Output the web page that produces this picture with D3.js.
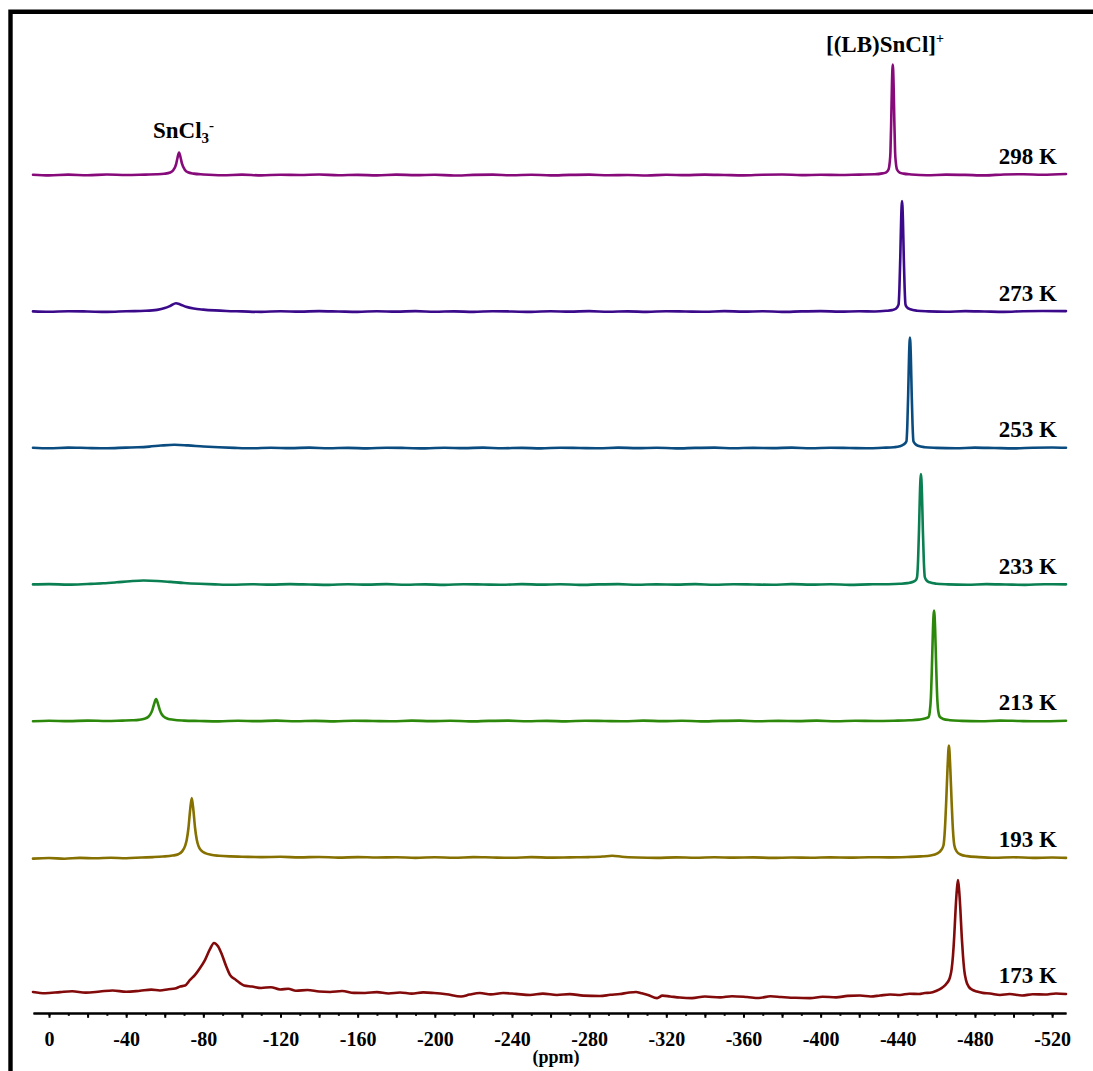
<!DOCTYPE html>
<html>
<head>
<meta charset="utf-8">
<script src="https://cdn.jsdelivr.net/npm/d3@7"></script>
<style>
	body { margin: 0; background: #fff; }
	svg { display: block; }
	.trace { fill: none; stroke-width: 2.6; stroke-linejoin: round; stroke-linecap: round; }
	.serif { font-family: "Liberation Serif", "Times New Roman", serif; font-weight: bold; fill: #000; }
	.axis path, .axis line { stroke: #000; stroke-width: 2; }
</style>
</head>
<body>
<svg id="plot" width="1093" height="1071"></svg>
<script>
function whenDocumentLoaded(action) {
	if (document.readyState === "loading") {
		document.addEventListener("DOMContentLoaded", action);
	} else {
		action();
	}
}

// temperatures, top to bottom
const TEMPS = ['298 K', '273 K', '253 K', '233 K', '213 K', '193 K', '173 K'];

// [ppm, intensity] (LB peak ~ 81)
const T298 = [[8.3,0.2],[0,-0.3],[-10,0.3],[-20,-0.2],[-30,0.4],[-40,0],[-50,0.3],[-56,0.5],
	[-59.7,0.9],[-62.8,1.8],[-64.3,3.3],[-65.9,8],[-66.6,12.5],[-67.4,16.5],[-68.2,12.8],[-68.9,8.5],[-70.5,3.6],[-72,2],[-75,1],[-80,0.4],
	[-90,-0.2],[-100,0.3],[-110,-0.3],[-120,0.2],[-130,0],[-140,0.4],[-150,-0.2],[-160,0.1],[-170,-0.3],[-180,0.3],[-190,-0.1],[-200,0.2],
	[-210,-0.4],[-220,0.1],[-230,0.3],[-240,-0.2],[-250,0.2],[-260,-0.3],[-270,0.1],[-280,0.3],[-290,-0.2],[-300,0],[-310,-0.4],[-320,0.2],
	[-330,-0.1],[-340,0.3],[-350,0],[-360,-0.3],[-370,0.2],[-380,0.4],[-390,-0.1],[-400,0.2],[-410,0],[-420,0.3],[-428,0.5],
	[-432,1.2],[-434,2],[-435.2,4],[-435.8,9],[-436.2,17],[-436.6,40],[-437,68],[-437.4,81],[-437.8,68],[-438.2,40],[-438.6,17],[-439,9],
	[-439.6,4],[-441,1.8],[-443,1],[-447,0.4],[-455,-0.2],[-465,0.3],[-475,0.1],[-485,-0.3],[-495,0.4],[-505,0.6],[-515,0.2],[-527.2,0.7]];

const T273 = [[8.3,0.1],[0,-0.2],[-10,0.2],[-20,0],[-30,-0.3],[-40,0.2],[-50,0.5],[-56,1.2],[-60,2.5],[-63,4.2],[-65.8,6],[-68,5.2],
	[-71,3.5],[-75,2.2],[-80,1.4],[-86,0.8],[-92,0.4],[-100,0.1],[-110,-0.3],[-120,0.2],[-130,-0.1],[-140,0.3],[-150,0],[-160,-0.3],
	[-170,0.2],[-180,-0.1],[-190,0.3],[-200,-0.2],[-210,0.1],[-220,-0.3],[-230,0.2],[-240,0],[-250,-0.3],[-260,0.2],[-270,-0.1],[-280,0.3],
	[-290,-0.2],[-300,0.1],[-310,-0.3],[-320,0.2],[-330,0],[-340,-0.2],[-350,0.3],[-360,-0.1],[-370,0.2],[-380,-0.3],[-390,0.1],[-400,0.3],
	[-410,-0.1],[-420,0.2],[-428,0],[-434,0.5],[-437,1],[-439,2],[-440.4,5],[-440.85,17],[-441.3,40],[-441.75,68],[-442.2,81],[-442.65,68],
	[-443.1,40],[-443.55,17],[-444,5],[-444.8,3],[-446.5,1.6],[-450,0.6],[-456,0.1],[-465,-0.2],[-475,0.3],[-485,0],[-495,-0.3],[-505,0.2],
	[-515,0.4],[-527.2,0.3]];

const T253 = [[8.3,0.2],[0,-0.2],[-10,0.3],[-20,0],[-30,-0.2],[-40,0.3],[-46,0.5],[-52,1],[-58,1.8],[-65,2.4],[-72,1.9],[-80,1.1],
	[-88,0.5],[-96,0.1],[-105,-0.2],[-115,0.2],[-125,-0.1],[-135,0.3],[-145,-0.2],[-155,0.1],[-165,-0.3],[-175,0.2],[-185,0],[-195,-0.3],
	[-205,0.2],[-215,-0.1],[-225,0.3],[-235,-0.2],[-245,0.1],[-255,-0.3],[-265,0.2],[-275,0],[-285,-0.2],[-295,0.3],[-305,-0.1],[-315,0.2],
	[-325,-0.3],[-335,0.1],[-345,0.3],[-355,-0.2],[-365,0.1],[-375,-0.1],[-385,0.3],[-395,-0.2],[-405,0.2],[-415,0],[-425,-0.2],[-432,0.2],
	[-438,0.6],[-441,1.2],[-443,2.5],[-444.5,5],[-444.95,17],[-445.4,40],[-445.85,68],[-446.3,81],[-446.75,68],[-447.2,40],[-447.65,17],
	[-448.1,5],[-449,3],[-450.5,1.6],[-454,0.6],[-460,0.1],[-470,-0.2],[-480,0.3],[-490,0],[-500,-0.3],[-510,0.2],[-520,0.4],[-527.2,0.2]];

const T233 = [[8.3,0.1],[0,0.3],[-10,-0.1],[-20,0.4],[-28,0.9],[-35,1.6],[-42,2.4],[-49,2.9],[-56,2.6],[-63,1.9],[-70,1.1],[-78,0.5],
	[-86,0.1],[-95,-0.2],[-105,0.2],[-115,-0.1],[-125,0.3],[-135,0],[-145,-0.3],[-155,0.2],[-165,-0.1],[-175,0.3],[-185,-0.2],[-195,0.1],
	[-205,-0.3],[-215,0.2],[-225,0],[-235,-0.2],[-245,0.3],[-255,-0.1],[-265,0.2],[-275,-0.3],[-285,0.1],[-295,0.3],[-305,-0.2],[-315,0.1],
	[-325,-0.1],[-335,0.3],[-345,-0.2],[-355,0.2],[-365,0],[-375,-0.2],[-385,0.3],[-395,-0.1],[-405,0.2],[-415,-0.3],[-425,0.1],[-435,0.2],
	[-441,0.5],[-445,1],[-448,2],[-449.5,3.5],[-450,5.5],[-450.5,17],[-451,40],[-451.5,68],[-452,81],[-452.5,68],[-453,40],[-453.5,17],
	[-454,5.5],[-454.8,3.2],[-456.5,1.6],[-460,0.6],[-466,0.1],[-476,-0.2],[-486,0.3],[-496,0],[-506,-0.3],[-516,0.2],[-527.2,0.1]];

const T213 = [[8.3,-0.2],[0,0.2],[-10,-0.1],[-20,0.3],[-30,0],[-38,0.3],[-43,0.5],[-46.5,0.8],[-49.5,1.6],[-51.5,3.1],[-52.5,4.8],
	[-53.55,8],[-54.5,12.6],[-55.5,16],[-56.5,12.6],[-57.45,8],[-58.5,4.8],[-59.5,3.2],[-61.5,1.7],[-64.5,0.9],[-70,0.3],[-78,0],[-88,-0.3],
	[-98,0.2],[-108,-0.1],[-118,0.3],[-128,-0.2],[-138,0.1],[-148,-0.3],[-158,0.2],[-168,0],[-178,-0.2],[-188,0.3],[-198,-0.1],[-208,0.2],
	[-218,-0.3],[-228,0.1],[-238,0.3],[-248,-0.2],[-258,0.1],[-268,-0.3],[-278,0.2],[-288,0],[-298,-0.2],[-308,0.3],[-318,-0.1],[-328,0.2],
	[-338,-0.3],[-348,0.1],[-358,0.3],[-368,-0.2],[-378,0.1],[-388,-0.1],[-398,0.3],[-408,-0.2],[-418,0.2],[-428,0],[-438,0.2],[-446,0.5],
	[-451,1],[-454,1.8],[-456,3],[-456.6,7],[-457.15,17],[-457.7,40],[-458.25,68],[-458.8,81],[-459.35,68],[-459.9,40],[-460.45,17],
	[-461,7],[-461.8,3],[-463.5,1.5],[-467,0.6],[-473,0.1],[-483,-0.2],[-493,0.3],[-503,0],[-513,-0.2],[-527.2,0.2]];

const T193 = [[8.3,-0.8],[0,-0.4],[-8,-0.9],[-16,-0.3],[-24,-0.6],[-32,-0.2],[-40,-0.5],[-48,0],[-54,0.3],[-59,0.7],[-64,1.4],
	[-67,2.4],[-69,4.5],[-70.5,8.3],[-71.4,13],[-72.3,21.8],[-73.1,34],[-74,43.5],[-74.9,34],[-75.7,21.8],[-76.6,13],[-77.5,8.3],[-79,5],
	[-81,3.2],[-84,2],[-88,1.3],[-94,0.8],[-100,0.6],[-110,0.3],[-120,0.5],[-130,0.1],[-140,0.4],[-150,-0.1],[-160,0.3],[-170,0],[-180,0.2],
	[-190,-0.3],[-200,0.2],[-210,-0.2],[-220,0.3],[-230,0],[-240,-0.2],[-250,0.3],[-260,-0.1],[-270,0.1],[-280,0.3],[-287,0.7],[-292,1.3],
	[-297,0.6],[-305,0],[-315,-0.3],[-325,0.1],[-335,-0.2],[-345,0.2],[-355,-0.1],[-365,0.1],[-375,-0.3],[-385,0],[-395,-0.2],[-405,0.1],
	[-415,-0.1],[-425,0.2],[-435,0.1],[-445,0.4],[-452,0.8],[-457,1.5],[-460.5,3],[-462.5,5.5],[-463.7,9],[-464.4,20],[-465.1,41],
	[-465.8,66],[-466.5,82],[-467.2,66],[-467.9,41],[-468.6,20],[-469.3,9],[-470.5,4.5],[-472.5,2.2],[-476,1],[-482,0.3],[-490,-0.2],
	[-500,0.2],[-510,-0.3],[-520,0],[-527.2,-0.3]];

const T173 = [[8.3,1.5],[2,0.6],[-5.7,1.4],[-12,2],[-19,1],[-26.4,1.8],[-33,2.6],[-40,1.6],[-47.2,2.4],[-53,3.2],[-57.5,2.6],[-62,3.5],
	[-65.3,4],[-68,5.5],[-70.5,6.2],[-73.1,10.3],[-75.7,14],[-78.3,19],[-80.9,25],[-83.5,33],[-85.5,37.4],[-87.6,35],[-89.7,28.6],
	[-91.8,20.5],[-93.8,14],[-96.9,10.3],[-99,8],[-101.1,6.2],[-105.2,5.5],[-110,4.4],[-115,5],[-119.8,3.3],[-124,3.8],[-128,2.4],[-134,2.9],
	[-140,1.8],[-145.7,1.5],[-152,2.2],[-158,0.8],[-163.8,0.7],[-170,1.4],[-176,0.4],[-182,1.1],[-188,0.3],[-194,1.2],[-199.6,0.7],
	[-206,-0.2],[-213.6,-1.8],[-218,-0.4],[-223.4,0.7],[-229,-0.3],[-235.4,0.7],[-242,0.1],[-249.4,-0.7],[-256,0.3],[-263.3,-0.7],
	[-270,-0.1],[-277,-1.2],[-285.6,-1.5],[-291,-0.6],[-296,0],[-300,0.9],[-304.3,1.5],[-307,0.6],[-310.5,-0.7],[-315.2,-3],[-318,-1.2],
	[-322,-1.8],[-327,-2.6],[-333.3,-3],[-340,-1.8],[-347.9,-2.5],[-354,-1.6],[-361.8,-2.2],[-368,-2.9],[-374,-1.7],[-379.5,-2.2],
	[-387,-2.8],[-394.5,-3],[-401,-2],[-408,-2.5],[-414,-1.4],[-420.4,-1.1],[-426,-1.8],[-430.8,-1.1],[-436,-0.4],[-441.2,-0.7],[-446,0.2],
	[-451,0],[-454,0.7],[-456.7,0.9],[-459.8,2.2],[-462.9,4.5],[-465.5,8],[-467,12],[-467.9,18],[-468.6,28],[-469.25,42],[-470,63],
	[-470.6,76],[-471.2,83.5],[-471.8,76],[-472.4,63],[-473.15,42],[-473.8,28],[-474.5,17],[-475.4,10],[-476.7,5.5],[-478.7,3],[-481,1.8],
	[-484,0.8],[-487.8,0.4],[-493,-0.7],[-498,0],[-504.4,-1.1],[-510,-0.2],[-516.3,-0.4],[-522,0.4],[-527.2,0]];

const SERIES = [T298, T273, T253, T233, T213, T193, T173];
const COLORS = ['#870a7b', '#3a0a8a', '#0a4c80', '#0a7f52', '#2c880a', '#857000', '#820a0a'];

// axis
const TICK_LABELS = [0, -40, -80, -120, -160, -200, -240, -280, -320, -360, -400, -440, -480, -520];
const PPM_RANGE = [8.3, -527.2];

class StackedSpectra {
	constructor(svg_id) {
		this.svg = d3.select('#' + svg_id);

		const x = d3.scaleLinear().domain(PPM_RANGE).range([33, 1066]);
		// stack step = 100 intensity units
		const y = d3.scaleLinear().domain([0, 600]).range([994, 175]);
		const step = 100;
		const n = SERIES.length;

		// frame (left and top edges only)
		this.svg.append('path')
			.attr('d', 'M10.5,1071 L10.5,11.8 L1093,11.8')
			.attr('fill', 'none')
			.attr('stroke', '#000')
			.attr('stroke-width', 4.4);

		const traces = this.svg.append('g');
		SERIES.forEach((data, i) => {
			const off = (n - 1 - i) * step;
			const line = d3.line()
				.x(d => x(d[0]))
				.y(d => y(d[1] + off))
				.curve(d3.curveMonotoneX);
			traces.append('path')
				.classed('trace', true)
				.attr('stroke', COLORS[i])
				.attr('d', line(data));

			traces.append('text')
				.classed('serif', true)
				.attr('x', 1057)
				.attr('y', y(off) - 11)
				.attr('text-anchor', 'end')
				.attr('font-size', 23)
				.text(TEMPS[i]);
		});

		// peak labels
		const lb = this.svg.append('text')
			.classed('serif', true)
			.attr('x', 885)
			.attr('y', 52)
			.attr('text-anchor', 'middle')
			.attr('font-size', 23);
		lb.append('tspan').text('[(LB)SnCl]');
		lb.append('tspan').attr('font-size', 14).attr('dy', -9).text('+');

		const sn = this.svg.append('text')
			.classed('serif', true)
			.attr('x', 153)
			.attr('y', 138)
			.attr('font-size', 23);
		sn.append('tspan').text('SnCl');
		sn.append('tspan').attr('font-size', 15).attr('dy', 5).text('3');
		sn.append('tspan').attr('font-size', 15).attr('dy', -13).text('-');

		// x axis
		const axisY = 1013;
		const minor = d3.range(0, -521, -10);
		const major = d3.range(0, -521, -20);

		this.svg.append('g')
			.classed('axis', true)
			.attr('transform', `translate(0,${axisY})`)
			.call(d3.axisBottom(x).tickValues(minor).tickSize(2.8).tickSizeOuter(0).tickFormat(''));

		const ax = this.svg.append('g')
			.classed('axis', true)
			.attr('transform', `translate(0,${axisY})`)
			.call(d3.axisBottom(x).tickValues(major).tickSize(4.8).tickSizeOuter(0).tickPadding(13.5)
				.tickFormat(d => TICK_LABELS.includes(d) ? String(d) : ''));
		ax.selectAll('text')
			.classed('serif', true)
			.attr('font-size', 20)
			.attr('font-family', null);
		ax.attr('font-family', null).attr('font-size', null);

		this.svg.append('text')
			.classed('serif', true)
			.attr('x', 556)
			.attr('y', 1063)
			.attr('text-anchor', 'middle')
			.attr('font-size', 18)
			.text('(ppm)');
	}
}

whenDocumentLoaded(() => {
	const plot = new StackedSpectra('plot');
});
</script>
</body>
</html>
